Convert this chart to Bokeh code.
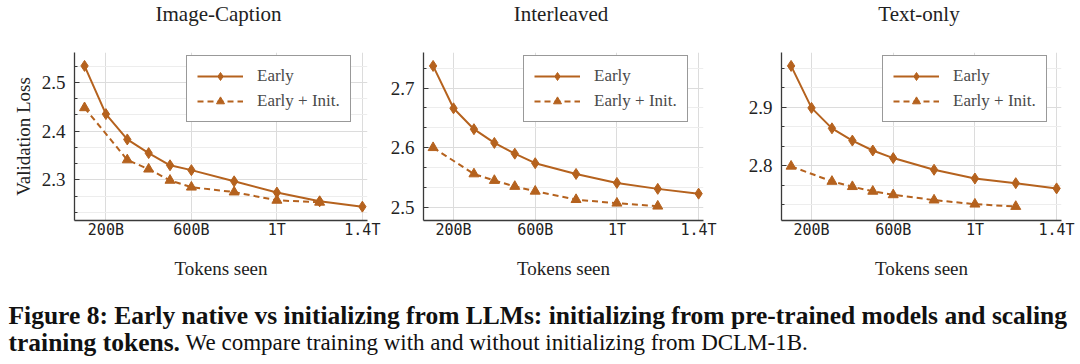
from bokeh.plotting import figure
from bokeh.models import Range1d, FixedTicker, Legend, LegendItem, Label
from bokeh.layouts import row, column
from bokeh.embed import file_html
from bokeh.resources import INLINE

# ---------------- data ----------------
tokens_early = [100, 200, 300, 400, 500, 600, 800, 1000, 1200, 1400]   # billions
tokens_init = [100, 300, 400, 500, 600, 800, 1000, 1200]

titles = ["Image-Caption", "Interleaved", "Text-only"]

caption_early = [2.534, 2.435, 2.383, 2.355, 2.330, 2.320, 2.297, 2.274, 2.256, 2.245]
caption_init = [2.448, 2.341, 2.322, 2.299, 2.285, 2.275, 2.258, 2.254]
interleaved_early = [2.737, 2.666, 2.631, 2.608, 2.590, 2.574, 2.556, 2.541, 2.531, 2.523]
interleaved_init = [2.600, 2.556, 2.545, 2.535, 2.527, 2.513, 2.507, 2.502]
text_early = [2.971, 2.899, 2.864, 2.843, 2.826, 2.813, 2.793, 2.778, 2.770, 2.761]
text_init = [2.799, 2.773, 2.764, 2.756, 2.750, 2.741, 2.734, 2.730]

x_ticks = [200, 600, 1000, 1400]
x_tick_labels = ["200B", "600B", "1T", "1.4T"]

caption_y_ticks = [2.3, 2.4, 2.5]
interleaved_y_ticks = [2.5, 2.6, 2.7]
text_y_ticks = [2.8, 2.9]

series_labels = ["Early", "Early + Init."]
y_axis_label = "Validation Loss"
x_axis_label = "Tokens seen"

caption_line1 = "Figure 8: Early native vs initializing from LLMs: initializing from pre-trained models and scaling"
caption_line2_bold = "training tokens."
caption_line2_regular = "We compare training with and without initializing from DCLM-1B."

# ---------------- style ----------------
COLOR = "#B5621E"
SERIF = "Liberation Serif"
MONO = "DejaVu Sans Mono"
TEXT = "#222222"
AXIS = "#3a3a3a"
FRAME_H = 168
TITLE_H = 30
TOTAL_W = 1078
BASELINE_FIX = 6.5   # rendered baseline sits this much below the requested one


def blank_figure(width, height):
    f = figure(width=width, height=height, output_backend="svg", toolbar_location=None, tools="",
               x_range=Range1d(0, 1), y_range=Range1d(0, 1), x_axis_type=None, y_axis_type=None,
               min_border=0, outline_line_color=None,
               background_fill_color="white", border_fill_color="white")
    f.grid.visible = False
    return f


def panel(early, init, y_range, y_major, frame_w, b_left, b_right, legend_left, ylabel=None):
    p = figure(output_backend="svg", toolbar_location=None, tools="",
               frame_width=frame_w, frame_height=FRAME_H,
               x_range=Range1d(53, 1424), y_range=Range1d(*y_range),
               min_border_left=b_left, min_border_right=b_right,
               min_border_top=52 - TITLE_H, min_border_bottom=74,
               background_fill_color="white", border_fill_color="white",
               outline_line_color=None)

    # x axis
    xa = p.xaxis[0]
    xa.ticker = FixedTicker(ticks=x_ticks, minor_ticks=[])
    xa.major_label_overrides = {t: l for t, l in zip(x_ticks, x_tick_labels)}
    xa.major_tick_line_color = None
    xa.minor_tick_line_color = None
    xa.major_tick_in = 0
    xa.major_tick_out = 0
    xa.minor_tick_in = 0
    xa.minor_tick_out = 0
    xa.major_label_standoff = 0
    xa.major_label_text_font = MONO
    xa.major_label_text_font_size = "15px"
    xa.major_label_text_color = TEXT
    xa.axis_label = x_axis_label
    xa.axis_label_text_font = SERIF
    xa.axis_label_text_font_size = "19px"
    xa.axis_label_text_font_style = "normal"
    xa.axis_label_text_color = TEXT
    xa.axis_label_standoff = 16
    xa.axis_line_color = AXIS
    xa.axis_line_width = 1.3

    # y axis
    step = 0.1 / 3
    lo = min(y_major) - 0.1
    minors = [round(lo + k * step, 4) for k in range(0, 40)]
    minors = [m for m in minors if y_range[0] < m < y_range[1]
              and all(abs(m - t) > 1e-3 for t in y_major)]
    ya = p.yaxis[0]
    ya.ticker = FixedTicker(ticks=y_major, minor_ticks=minors)
    ya.major_label_overrides = {t: f"{t:.1f}" for t in y_major}
    ya.major_tick_in = 5
    ya.major_tick_out = 0
    ya.minor_tick_in = 3
    ya.minor_tick_out = 0
    ya.major_tick_line_color = AXIS
    ya.minor_tick_line_color = AXIS
    ya.major_label_standoff = 9
    ya.major_label_text_font = SERIF
    ya.major_label_text_font_size = "19px"
    ya.major_label_text_color = TEXT
    ya.axis_line_color = AXIS
    ya.axis_line_width = 1.3
    if ylabel:
        ya.axis_label = ylabel
        ya.axis_label_text_font = SERIF
        ya.axis_label_text_font_size = "19px"
        ya.axis_label_text_font_style = "normal"
        ya.axis_label_text_color = TEXT
        ya.axis_label_standoff = 5

    # grids
    p.xgrid.grid_line_color = "#dcdcdc"
    p.xgrid.grid_line_width = 1
    p.ygrid.grid_line_color = "#dcdcdc"
    p.ygrid.grid_line_width = 1
    p.ygrid.minor_grid_line_color = "#ededed"
    p.ygrid.minor_grid_line_width = 1

    # data
    l1 = p.line(tokens_early, early, line_color=COLOR, line_width=2)
    s1 = p.scatter(tokens_early, early, marker="diamond", size=11,
                   fill_color=COLOR, line_color=COLOR)
    l2 = p.line(tokens_init, init, line_color=COLOR, line_width=2, line_dash="6 4")
    s2 = p.scatter(tokens_init, init, marker="triangle", size=10,
                   fill_color=COLOR, line_color=COLOR)

    legend = Legend(items=[LegendItem(label=series_labels[0], renderers=[l1, s1]),
                           LegendItem(label=series_labels[1], renderers=[l2, s2])],
                    location=(legend_left, 98), padding=10, spacing=5,
                    glyph_width=46, glyph_height=20, label_height=20, label_standoff=14,
                    label_text_font=SERIF, label_text_font_size="17px",
                    label_text_color="#4a4a4a",
                    border_line_color="#333333", border_line_width=1.2,
                    background_fill_color="white", background_fill_alpha=1.0)
    p.add_layout(legend)
    return p


# panel geometry: (frame width, left border, right border, legend left offset)
geom = [(293, 74, 16, 112), (280, 40, 17, 100), (280, 61, 17, 101)]
# visual centre of each panel's plot area, relative to page
title_centres = [218, 560.5, 918.5]

f1 = panel(caption_early, caption_init, (2.2166, 2.5615), caption_y_ticks, *geom[0],
           ylabel=y_axis_label)
f2 = panel(interleaved_early, interleaved_init, (2.478, 2.7595), interleaved_y_ticks, *geom[1])
f3 = panel(text_early, text_init, (2.706, 2.994), text_y_ticks, *geom[2])

# title strip above the panels (target baseline y=21 on the page)
tfig = blank_figure(TOTAL_W, TITLE_H)
for t, cx in zip(titles, title_centres):
    tfig.add_layout(Label(x=cx, y=TITLE_H - 21 + 8, x_units="screen", y_units="screen",
                          text=t, text_align="center", text_baseline="alphabetic",
                          text_font=SERIF, text_font_size="21px", text_color=TEXT))

# caption (target baselines y=321 and y=348 on the page; strip starts at y=294)
CAP_H = 68
CAP_TOP = 294
cap = blank_figure(TOTAL_W, CAP_H)
BOLD_SIZE = 25.5
REG_SIZE = 23
y1 = CAP_H - (321 - CAP_TOP) + BASELINE_FIX
y2 = CAP_H - (348 - CAP_TOP) + BASELINE_FIX
cap.add_layout(Label(x=8, y=y1, x_units="screen", y_units="screen", text=caption_line1,
                     text_font=SERIF, text_font_size=f"{BOLD_SIZE}px", text_font_style="bold",
                     text_color="#111111", text_baseline="alphabetic"))
cap.add_layout(Label(x=8, y=y2, x_units="screen", y_units="screen", text=caption_line2_bold,
                     text_font=SERIF, text_font_size=f"{BOLD_SIZE}px", text_font_style="bold",
                     text_color="#111111", text_baseline="alphabetic"))
bold_w = 6.72 * BOLD_SIZE + 0.25 * REG_SIZE
cap.add_layout(Label(x=8 + bold_w, y=y2, x_units="screen", y_units="screen",
                     text=caption_line2_regular,
                     text_font=SERIF, text_font_size=f"{REG_SIZE}px", text_font_style="normal",
                     text_color="#111111", text_baseline="alphabetic"))

layout = column(tfig, row(f1, f2, f3, spacing=0), cap, spacing=0)
open("out.html", "w").write(file_html(layout, INLINE))
